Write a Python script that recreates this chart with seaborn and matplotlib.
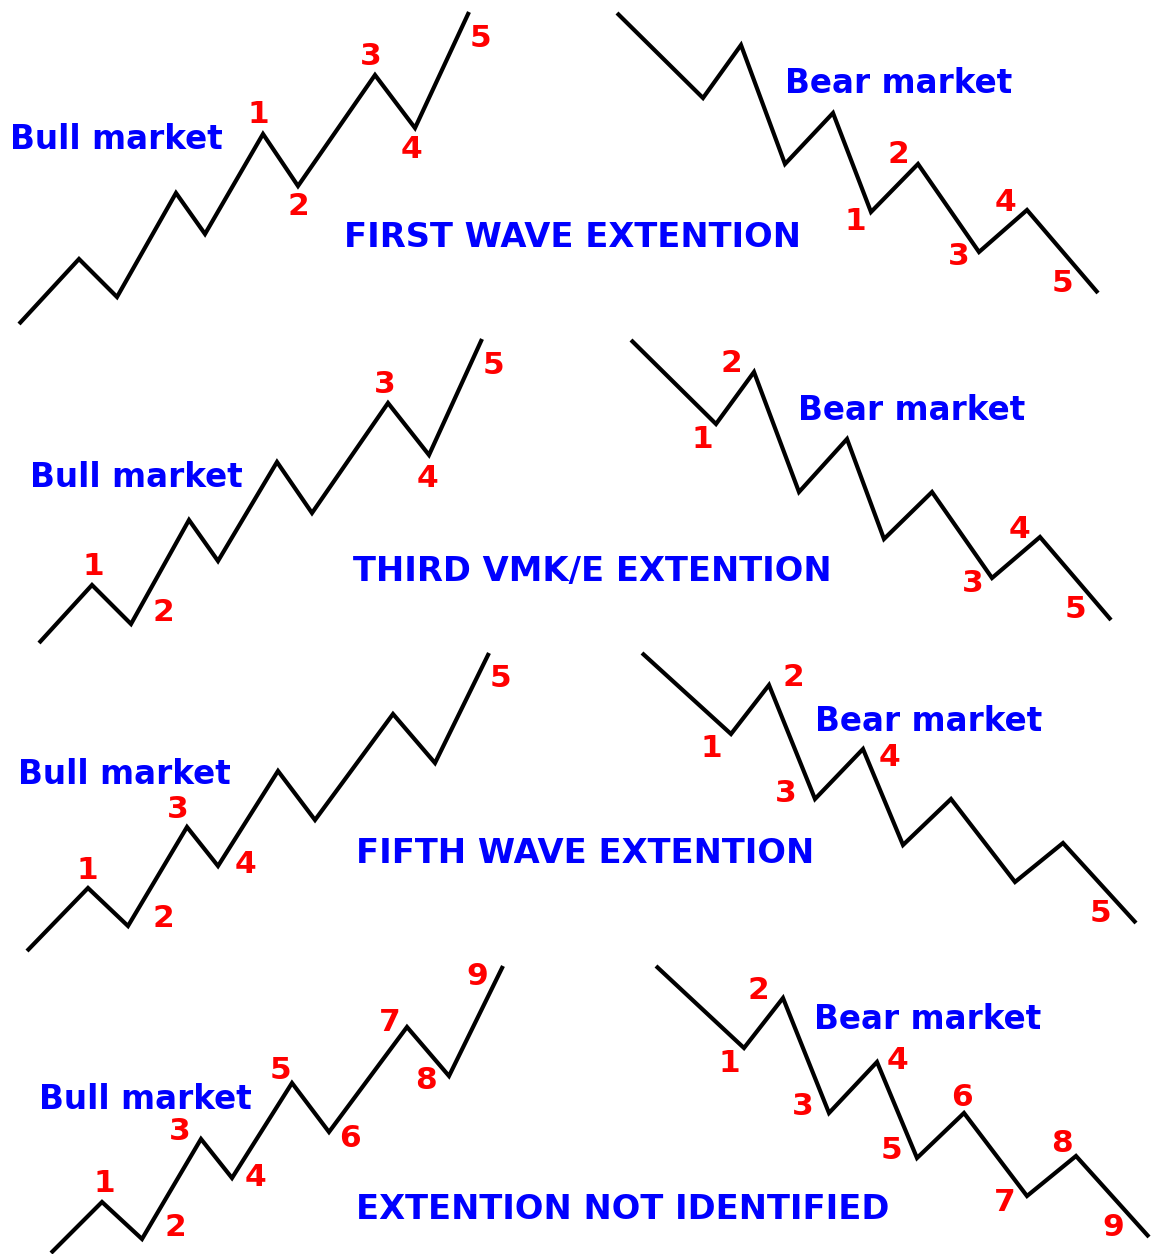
import pandas as pd
import matplotlib
import matplotlib.pyplot as plt
import seaborn as sns

matplotlib.use('Agg')

# wave vertices (pixel coords, y down)
bull1_x = [19, 79, 117, 176, 205, 263, 298, 375, 415, 469]
bull1_y = [324, 259, 297, 193, 234, 134, 186, 75, 128, 12]
bear1_x = [617, 703, 741, 785, 833, 871, 918, 979, 1027, 1098]
bear1_y = [13, 98, 45, 164, 113, 212, 164, 252, 210, 293]

bull2_x = [39, 92, 131, 189, 218, 277, 312, 388, 429, 482]
bull2_y = [643, 585, 624, 520, 561, 462, 513, 403, 455, 339]
bear2_x = [631, 716, 754, 799, 847, 884, 932, 992, 1040, 1111]
bear2_y = [340, 424, 372, 492, 439, 539, 492, 578, 537, 620]

bull3_x = [27, 88, 128, 187, 218, 278, 315, 393, 435, 489]
bull3_y = [951, 888, 926, 827, 866, 771, 820, 714, 763, 653]
bear3_x = [642, 731, 769, 815, 863, 903, 951, 1015, 1063, 1136]
bear3_y = [653, 734, 685, 799, 749, 845, 799, 882, 843, 923]

bull4_x = [51, 102, 142, 201, 232, 292, 329, 407, 449, 503]
bull4_y = [1253, 1202, 1239, 1139, 1178, 1083, 1132, 1027, 1076, 966]
bear4_x = [656, 744, 783, 829, 877, 917, 964, 1027, 1076, 1149]
bear4_y = [966, 1048, 998, 1113, 1062, 1158, 1113, 1196, 1156, 1237]

waves = [(bull1_x, bull1_y), (bear1_x, bear1_y),
         (bull2_x, bull2_y), (bear2_x, bear2_y),
         (bull3_x, bull3_y), (bear3_x, bear3_y),
         (bull4_x, bull4_y), (bear4_x, bear4_y)]

# red wave counts: text, x, y (centre)
count_text = (['1', '2', '3', '4', '5'] * 6
              + ['1', '2', '3', '4', '5', '6', '7', '8', '9'] * 2)
count_x = [258, 298, 371, 412, 480,
           855, 898, 959, 1006, 1062,
           93, 163, 385, 427, 493,
           702, 731, 973, 1020, 1075,
           87, 163, 178, 245, 500,
           711, 793, 786, 889, 1100,
           104, 175, 180, 256, 280, 350, 390, 426, 477,
           729, 758, 803, 897, 891, 962, 1005, 1062, 1113]
count_y = [113, 205, 55, 148, 37,
           220, 153, 255, 201, 282,
           565, 611, 383, 477, 364,
           438, 362, 582, 528, 608,
           869, 917, 808, 863, 677,
           747, 676, 792, 756, 912,
           1182, 1226, 1130, 1176, 1069, 1137, 1021, 1079, 975,
           1062, 989, 1105, 1059, 1149, 1096, 1201, 1142, 1226]

# blue market labels: text, left x, centre y
market_text = ['Bull market', 'Bear market'] * 4
market_x = [10, 785, 30, 798, 18, 815, 39, 814]
market_y = [138, 82, 476, 409, 773, 720, 1098, 1018]

# panel titles
title_text = ['FIRST WAVE EXTENTION', 'THIRD VMK/E EXTENTION',
              'FIFTH WAVE EXTENTION', 'EXTENTION NOT IDENTIFIED']
title_x = [344, 353, 356, 356]
title_y = [236, 570, 852, 1208]

sns.set_theme(style='white')
plt.rcParams['font.family'] = ['DejaVu Sans']

fig = plt.figure(figsize=(11.53, 12.54), dpi=100)
ax = fig.add_axes([0, 0, 1, 1])

for wx, wy in waves:
    df = pd.DataFrame({'x': wx, 'y': wy})
    sns.lineplot(data=df, x='x', y='y', sort=False, estimator=None,
                 color='black', linewidth=3.0, ax=ax)
for line in ax.get_lines():
    line.set_solid_joinstyle('miter')
    line.set_solid_capstyle('butt')

for t, x, y in zip(count_text, count_x, count_y):
    ax.text(x, y + 10, t, color='#ff0000', fontsize=22.5, fontweight='bold',
            ha='center', va='baseline')

for t, x, y in zip(market_text, market_x, market_y):
    ax.text(x, y + 11, t, color='#0000ff', fontsize=23.5, fontweight='bold',
            ha='left', va='baseline')

for t, x, y in zip(title_text, title_x, title_y):
    ax.text(x, y + 11, t, color='#0000ff', fontsize=24.3, fontweight='bold',
            ha='left', va='baseline')

ax.set_xlim(0, 1153)
ax.set_ylim(1254, 0)
ax.set_axis_off()

fig.savefig('out.png', dpi=100, facecolor='white')
